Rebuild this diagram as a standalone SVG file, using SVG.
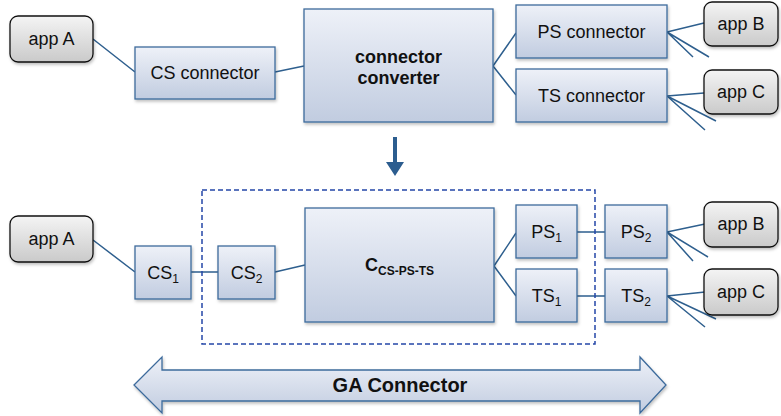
<svg xmlns="http://www.w3.org/2000/svg" width="781" height="416" viewBox="0 0 781 416">
<defs>
<linearGradient id="gb" x1="0" y1="0" x2="0" y2="1"><stop offset="0" stop-color="#eef1f8"/><stop offset="1" stop-color="#c1cce0"/></linearGradient>
<linearGradient id="gg" x1="0" y1="0" x2="0" y2="1"><stop offset="0" stop-color="#f4f4f4"/><stop offset="1" stop-color="#cacaca"/></linearGradient>
<filter id="sh" x="-10%" y="-10%" width="130%" height="140%"><feDropShadow dx="1" dy="2" stdDeviation="1.5" flood-color="#000" flood-opacity="0.25"/></filter>
<style>
.b{fill:url(#gb);stroke:#3d6b9c;stroke-width:1.3;filter:url(#sh)}
.a{fill:url(#gg);stroke:#111;stroke-width:1.3;filter:url(#sh)}
.t{font-family:"Liberation Sans",Arial,sans-serif;font-size:18px;fill:#111;text-anchor:middle}
.bd{font-weight:bold}
.s{font-size:12px}
.l{stroke:#2e5f8e;stroke-width:1.5;fill:none}
</style>
</defs>
<g id="connectors">
<path class="l" d="M93,39 L135,72 M275,72 L304,66 M493,66 L516,33 M493,66 L516,95"/>
<path class="l" d="M667,32 L704,23 M667,32 L693,57 M667,32 L709,57"/>
<path class="l" d="M667,96 L704,93 M667,96 L716,121 M667,96 L705,130"/>
<path class="l" d="M93,240 L135,272 M191,272 L218,272 M275,272 L305,265 M494,266 L516,233 M494,266 L516,296 M577,232 L605,232 M577,296 L605,296"/>
<path class="l" d="M667,232 L705,224 M667,232 L693,261 M667,232 L708,257"/>
<path class="l" d="M667,296 L705,292 M667,296 L716,319 M667,296 L705,327"/>
<polygon points="393,137 397,137 397,162 404,162 395,176 386,162 393,162" fill="#2c5d8f"/>
</g>
<g id="group-box"><rect x="202" y="190" width="393" height="154" fill="none" stroke="#2447a8" stroke-width="1.5" stroke-dasharray="5,3"/></g>
<g id="appA1"><rect class="a" x="10" y="16" width="83" height="46" rx="8"/><text class="t" x="51.5" y="45">app A</text></g>
<g id="cs-connector"><rect class="b" x="135" y="47" width="140" height="52"/><text class="t" x="205" y="79">CS connector</text></g>
<g id="connector-converter"><rect class="b" x="304" y="9" width="189" height="113"/><text class="t bd" x="398.5" y="63">connector</text><text class="t bd" x="398.5" y="84">converter</text></g>
<g id="ps-connector"><rect class="b" x="516" y="5" width="151" height="53"/><text class="t" x="591.5" y="38">PS connector</text></g>
<g id="ts-connector"><rect class="b" x="516" y="69" width="151" height="53"/><text class="t" x="591.5" y="102">TS connector</text></g>
<g id="appB1"><rect class="a" x="704" y="2" width="74" height="44" rx="8"/><text class="t" x="741" y="30">app B</text></g>
<g id="appC1"><rect class="a" x="704" y="70" width="74" height="44" rx="8"/><text class="t" x="741" y="98">app C</text></g>
<g id="appA2"><rect class="a" x="10" y="216" width="83" height="46" rx="8"/><text class="t" x="51.5" y="245">app A</text></g>
<g id="cs1"><rect class="b" x="135" y="246" width="56" height="53"/><text class="t" x="163" y="279">CS<tspan class="s" dy="4">1</tspan></text></g>
<g id="cs2"><rect class="b" x="218" y="246" width="57" height="53"/><text class="t" x="246.5" y="279">CS<tspan class="s" dy="4">2</tspan></text></g>
<g id="c-cs-ps-ts"><rect class="b" x="305" y="208" width="189" height="114"/><text class="t bd" x="399.5" y="271">C<tspan class="s" dy="4">CS-PS-TS</tspan></text></g>
<g id="ps1"><rect class="b" x="516" y="205" width="61" height="53"/><text class="t" x="546.5" y="238">PS<tspan class="s" dy="4">1</tspan></text></g>
<g id="ts1"><rect class="b" x="516" y="269" width="61" height="53"/><text class="t" x="546.5" y="302">TS<tspan class="s" dy="4">1</tspan></text></g>
<g id="ps2"><rect class="b" x="605" y="205" width="62" height="53"/><text class="t" x="636" y="238">PS<tspan class="s" dy="4">2</tspan></text></g>
<g id="ts2"><rect class="b" x="605" y="269" width="62" height="53"/><text class="t" x="636" y="302">TS<tspan class="s" dy="4">2</tspan></text></g>
<g id="appB2"><rect class="a" x="704" y="202" width="74" height="45" rx="8"/><text class="t" x="741" y="230">app B</text></g>
<g id="appC2"><rect class="a" x="704" y="269" width="74" height="46" rx="8"/><text class="t" x="741" y="298">app C</text></g>
<g id="ga-connector"><polygon class="b" points="134,385 162,357 162,370 640,370 640,357 666,385 640,413 640,401 162,401 162,413"/><text class="t bd" x="400" y="392" style="font-size:20px">GA Connector</text></g>
</svg>
